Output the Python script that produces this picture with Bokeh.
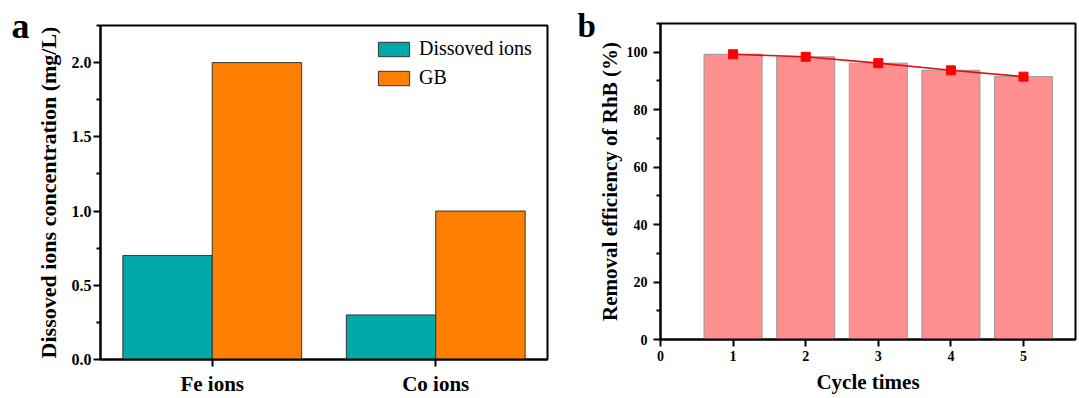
from bokeh.plotting import figure
from bokeh.layouts import row, column
from bokeh.models import (ColumnDataSource, FactorRange, Range1d, FixedTicker, Legend,
                          CustomJSTickFormatter)
from bokeh.transform import dodge
from bokeh.embed import file_html
from bokeh.resources import INLINE

# ---------------- data ----------------
ions = ["Fe ions", "Co ions"]
dissolved = [0.7, 0.3]
gb = [2.0, 1.0]

cycles = [1, 2, 3, 4, 5]
removal = [99.3, 98.4, 96.2, 93.7, 91.5]

FONT = "Liberation Serif"

def style_axes(p, tick_size, label_size):
    for ax in (p.xaxis[0], p.yaxis[0]):
        ax.axis_line_width = 2
        ax.axis_line_color = "black"
        ax.major_tick_line_width = 2
        ax.minor_tick_line_width = 2
        ax.major_tick_out = 7
        ax.major_tick_in = 0
        ax.minor_tick_out = 4
        ax.minor_tick_in = 0
        ax.major_label_text_font = FONT
        ax.major_label_text_font_style = "bold"
        ax.major_label_text_font_size = tick_size
        ax.major_label_text_color = "black"
        ax.axis_label_text_font = FONT
        ax.axis_label_text_font_style = "bold"
        ax.axis_label_text_font_size = label_size
        ax.axis_label_text_color = "black"
    p.xgrid.visible = False
    p.ygrid.visible = False
    p.outline_line_color = "black"
    p.outline_line_width = 2
    p.outline_line_alpha = 1.0

def panel_letter(p, letter, size, offset, pad_top):
    p.title.text = letter
    p.title.align = "left"
    p.title.offset = offset
    p.title.standoff = -40
    p.title.padding = dict(top=pad_top, bottom=0, left=0, right=0)
    p.title.text_font = FONT
    p.title.text_font_style = "bold"
    p.title.text_font_size = size
    p.title.text_color = "black"

# ---------------- panel a ----------------
src_a = ColumnDataSource(dict(ions=ions, dissolved=dissolved, gb=gb))
pa = figure(width=570, height=398, x_range=FactorRange(*ions, range_padding=0),
            y_range=Range1d(0, 2.25), output_backend="svg", toolbar_location=None,
            min_border_left=100, min_border_right=23, min_border_top=25, min_border_bottom=39)
r1 = pa.vbar(x=dodge("ions", -0.2, range=pa.x_range), top="dissolved", width=0.4, source=src_a,
             fill_color="#00A9A9", line_color="#333333", line_width=1)
r2 = pa.vbar(x=dodge("ions", 0.2, range=pa.x_range), top="gb", width=0.4, source=src_a,
             fill_color="#FF8000", line_color="#333333", line_width=1)
style_axes(pa, "16px", "22px")
pa.yaxis[0].axis_label = "Dissoved ions concentration (mg/L)"
pa.yaxis[0].ticker = FixedTicker(ticks=[0, 0.5, 1.0, 1.5, 2.0],
                                 minor_ticks=[0.25, 0.75, 1.25, 1.75, 2.25])
pa.yaxis[0].formatter = CustomJSTickFormatter(code="return tick.toFixed(1);")
pa.yaxis[0].major_label_standoff = 2
pa.yaxis[0].axis_label_standoff = 8
pa.xaxis[0].major_label_text_font_size = "21px"
pa.xaxis[0].major_label_standoff = 5
pa.xaxis[0].major_label_orientation = "horizontal"

leg = Legend(items=[("Dissoved ions", [r1]), ("GB", [r2])], location=(274, 270),
             padding=0, margin=0, spacing=6, glyph_width=39, glyph_height=18,
             label_height=18, label_standoff=6, label_text_font=FONT,
             label_text_font_size="20px", label_text_color="black",
             background_fill_alpha=0, border_line_alpha=0)
pa.add_layout(leg, "center")
panel_letter(pa, "a", "36px", -89, 10)

# ---------------- panel b ----------------
src_b = ColumnDataSource(dict(cycles=cycles, removal=removal))
pb = figure(width=509, height=398, x_range=Range1d(0, 5.716), y_range=Range1d(0, 110),
            output_backend="svg", toolbar_location=None,
            min_border_left=90, min_border_right=4, min_border_top=23, min_border_bottom=59)
pb.vbar(x="cycles", top="removal", width=0.8, source=src_b,
        fill_color="#FF8F8F", line_color="#9A9A9A", line_width=1)
pb.line(x="cycles", y="removal", source=src_b, line_color="#E01010", line_width=1.6)
pb.scatter(x="cycles", y="removal", source=src_b, marker="square", size=9,
           fill_color="#FF0000", line_color="#FF0000")
style_axes(pb, "14px", "21px")
pb.xaxis[0].axis_label = "Cycle times"
pb.yaxis[0].axis_label = "Removal efficiency of RhB (%)"
pb.xaxis[0].ticker = FixedTicker(ticks=[0, 1, 2, 3, 4, 5], minor_ticks=[])
pb.yaxis[0].ticker = FixedTicker(ticks=[0, 20, 40, 60, 80, 100],
                                 minor_ticks=[10, 30, 50, 70, 90, 110])
pb.yaxis[0].major_label_standoff = 6
pb.yaxis[0].axis_label_standoff = 2
pb.xaxis[0].major_label_standoff = 4
pb.xaxis[0].axis_label_standoff = 6
panel_letter(pb, "b", "33px", -83, 14)

layout = row(column(pa), column(pb), spacing=0)
open("out.html", "w").write(file_html(layout, INLINE))
